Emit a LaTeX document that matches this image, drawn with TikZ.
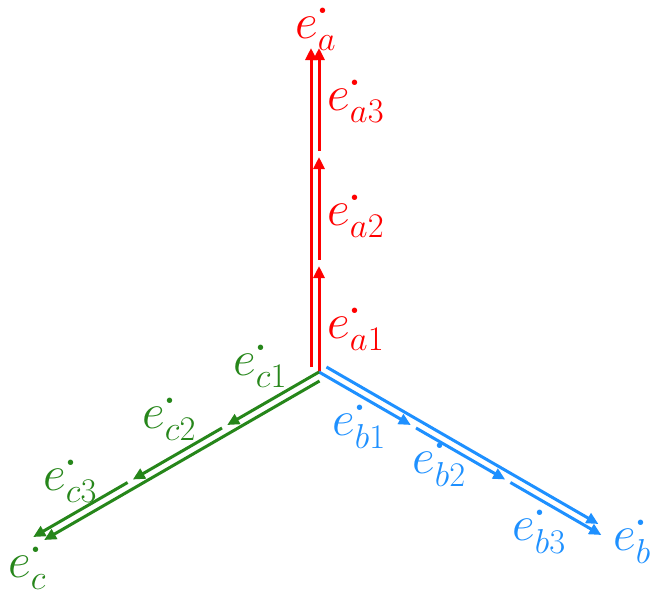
\documentclass[tikz,border=0pt]{standalone}
\usepackage{amsmath}
\usepackage{tikz}
\usetikzlibrary{arrows.meta,calc}
\DeclareMathSizes{24}{24}{18}{13}
\definecolor{axred}{RGB}{255,0,0}
\definecolor{axblue}{RGB}{30,144,255}
\definecolor{axgreen}{RGB}{38,134,26}
\tikzset{
  vec/.style={line width=1.5pt, -{Triangle[length=6pt,width=5.5pt]}},
  lbl/.style={inner sep=0pt, anchor=base west, font=\fontsize{24}{28}\selectfont},
}
\newcommand{\evec}[1]{$e^{\smash{\boldsymbol{\cdot}}}_{#1}$}

\begin{document}
\begin{tikzpicture}[x=0.5pt,y=0.5pt]
\useasboundingbox (0,0) rectangle (652,596);
\coordinate (O) at (319,224);
% axis a (vertical)
\coordinate (a1e) at ($(O)+(90:106)$);
\coordinate (a2s) at ($(O)+(90:112)$);
\coordinate (a2e) at ($(O)+(90:215)$);
\coordinate (a3s) at ($(O)+(90:221)$);
\coordinate (a3e) at ($(O)+(90:324)$);
\coordinate (as) at ($(O)+(-8,5)$);
\coordinate (ae) at ($(O)+(-8,324)$);
\draw[vec, axred] (O) -- (a1e);
\draw[vec, axred] (a2s) -- (a2e);
\draw[vec, axred] (a3s) -- (a3e);
\draw[vec, axred] (as) -- (ae);
% axis b
\coordinate (b1e) at ($(O)+(-30:106)$);
\coordinate (b2s) at ($(O)+(-30:112)$);
\coordinate (b2e) at ($(O)+(-30:215)$);
\coordinate (b3s) at ($(O)+(-30:221)$);
\coordinate (b3e) at ($(O)+(-30:326)$);
\coordinate (bs) at ($(O)+(4,7)+(-30:4)$);
\coordinate (be) at ($(O)+(4,7)+(-30:318)$);
\draw[vec, axblue] (O) -- (b1e);
\draw[vec, axblue] (b2s) -- (b2e);
\draw[vec, axblue] (b3s) -- (b3e);
\draw[vec, axblue] (bs) -- (be);
% axis c
\coordinate (c1e) at ($(O)+(210:106)$);
\coordinate (c2s) at ($(O)+(210:112)$);
\coordinate (c2e) at ($(O)+(210:215)$);
\coordinate (c3s) at ($(O)+(210:221)$);
\coordinate (c3e) at ($(O)+(210:330)$);
\coordinate (cs) at ($(O)+(4,-7)+(210:4)$);
\coordinate (ce) at ($(O)+(4,-7)+(210:322)$);
\draw[vec, axgreen] (O) -- (c1e);
\draw[vec, axgreen] (c2s) -- (c2e);
\draw[vec, axgreen] (c3s) -- (c3e);
\draw[vec, axgreen] (cs) -- (ce);
% labels
\node[lbl, axred] (la) at (295,558) {\evec{a}};
\node[lbl, axred] (la3) at (327,486) {\evec{a3}};
\node[lbl, axred] (la2) at (327,371) {\evec{a2}};
\node[lbl, axred] (la1) at (327,258) {\evec{a1}};
\node[lbl, axblue] (lb1) at (332,161) {\evec{b1}};
\node[lbl, axblue] (lb2) at (412,123) {\evec{b2}};
\node[lbl, axblue] (lb3) at (512,56) {\evec{b3}};
\node[lbl, axblue] (lb) at (613,46) {\evec{b}};
\node[lbl, axgreen] (lc1) at (233,221) {\evec{c1}};
\node[lbl, axgreen] (lc2) at (142,168) {\evec{c2}};
\node[lbl, axgreen] (lc3) at (43,106) {\evec{c3}};
\node[lbl, axgreen] (lc) at (8,19) {\evec{c}};
\end{tikzpicture}
\end{document}
